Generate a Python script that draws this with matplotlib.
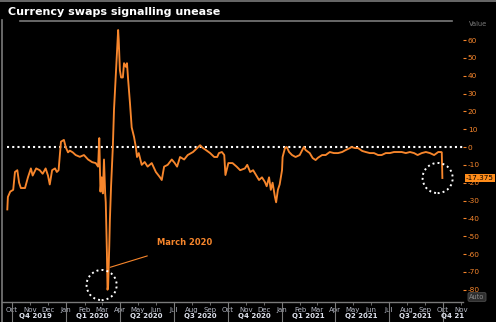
import matplotlib
matplotlib.use("Agg")
import matplotlib.pyplot as plt
import matplotlib.dates as mdates
import matplotlib.transforms as mtransforms
from matplotlib.lines import Line2D
import pandas as pd

plt.rcParams['axes.unicode_minus'] = False
plt.rcParams['font.family'] = ['DejaVu Sans']

# Cross-currency basis swap spread, approximate readings
dates = [
    "2019-09-23", "2019-09-24", "2019-09-28", "2019-10-03", "2019-10-06", "2019-10-10",
    "2019-10-13", "2019-10-16", "2019-10-23", "2019-10-28", "2019-11-02", "2019-11-05",
    "2019-11-11", "2019-11-17", "2019-11-22", "2019-11-27", "2019-12-01", "2019-12-04",
    "2019-12-08", "2019-12-13", "2019-12-16", "2019-12-19", "2019-12-23", "2019-12-28",
    "2019-12-31", "2020-01-04", "2020-01-07", "2020-01-12", "2020-01-17", "2020-01-24",
    "2020-01-31", "2020-02-07", "2020-02-14", "2020-02-20", "2020-02-24", "2020-02-26",
    "2020-02-28", "2020-03-01", "2020-03-03", "2020-03-05", "2020-03-07", "2020-03-08",
    "2020-03-09", "2020-03-10", "2020-03-11", "2020-03-12", "2020-03-14", "2020-03-15",
    "2020-03-16", "2020-03-17", "2020-03-19", "2020-03-20", "2020-03-22", "2020-03-24",
    "2020-03-27", "2020-03-29", "2020-03-30", "2020-04-01", "2020-04-03", "2020-04-06",
    "2020-04-08", "2020-04-11", "2020-04-13", "2020-04-15", "2020-04-18", "2020-04-21",
    "2020-04-25", "2020-04-28", "2020-04-30", "2020-05-03", "2020-05-08", "2020-05-13",
    "2020-05-18", "2020-05-25", "2020-06-01", "2020-06-08", "2020-06-11", "2020-06-15",
    "2020-06-21", "2020-06-28", "2020-07-03", "2020-07-07", "2020-07-12", "2020-07-19",
    "2020-07-25", "2020-08-03", "2020-08-10", "2020-08-15", "2020-08-20", "2020-08-25",
    "2020-09-01", "2020-09-08", "2020-09-13", "2020-09-16", "2020-09-21", "2020-09-25",
    "2020-09-27", "2020-10-02", "2020-10-09", "2020-10-16", "2020-10-22", "2020-10-30",
    "2020-11-03", "2020-11-08", "2020-11-13", "2020-11-18", "2020-11-23", "2020-11-28",
    "2020-12-03", "2020-12-06", "2020-12-10", "2020-12-13", "2020-12-16", "2020-12-20",
    "2020-12-22", "2020-12-25", "2020-12-28", "2021-01-01", "2021-01-02", "2021-01-06",
    "2021-01-09", "2021-01-13", "2021-01-18", "2021-01-24", "2021-01-31", "2021-02-07",
    "2021-02-10", "2021-02-17", "2021-02-22", "2021-02-27", "2021-03-03", "2021-03-10",
    "2021-03-16", "2021-03-23", "2021-03-30", "2021-04-06", "2021-04-13", "2021-04-19",
    "2021-04-26", "2021-04-29", "2021-05-05", "2021-05-10", "2021-05-17", "2021-05-23",
    "2021-05-30", "2021-06-06", "2021-06-13", "2021-06-19", "2021-06-26", "2021-07-03",
    "2021-07-10", "2021-07-17", "2021-07-23", "2021-07-30", "2021-08-06", "2021-08-13",
    "2021-08-19", "2021-08-26", "2021-09-02", "2021-09-09", "2021-09-16", "2021-09-23",
    "2021-09-28", "2021-09-29", "2021-09-30",
]
values = [
    -35, -28, -25, -24, -14, -13,
    -20, -23, -23, -17, -12, -16,
    -12, -13, -15, -12, -16, -21,
    -13, -12, -14, -13, 3, 4,
    0, -3, -2, -3, -4.5, -5.5,
    -4.5, -7, -8.5, -9, -11, 5,
    -25, -17, -26, -7, -26, -31,
    -45, -60, -80, -78, -55, -41,
    -31, -22, -7, 0, 21, 34,
    53, 65.6, 60, 43, 39, 39,
    47, 45, 47, 37.6, 25, 11,
    5.6, 0, -5.6, -3.4, -10, -8.4,
    -11, -9, -14, -17, -18.5, -11,
    -10, -7, -9, -11, -5.6, -7,
    -4.5, -2.8, -0.6, 1, -0.6, -1.7,
    -3.4, -5.6, -5.6, -3.4, -2.8, -4.5,
    -15.7, -9, -9, -11, -13, -12,
    -10, -14, -13, -15.7, -18.5, -17,
    -19.6, -22, -17, -24, -20, -28,
    -31, -24, -21, -13, -5.6, -0.6,
    0, -2.8, -4.5, -5.6, -4.5, 0,
    -1.7, -3.4, -6.2, -7.3, -6, -4.5,
    -4.5, -2.8, -3.4, -3.4, -2.8, -1.7,
    -0.6, 0, -0.6, -0.6, -2.2, -2.8,
    -3.4, -3.4, -4.5, -4.5, -3.4, -3.4,
    -2.8, -2.8, -2.8, -3.4, -2.8, -3.4,
    -4.5, -3.4, -2.8, -3.4, -4.5, -2.8,
    -2.8, -3.0, -17.375,
]

y_ticks = list(range(-80, 61, 10))
quarter_starts = ["2019-10-01", "2020-01-01", "2020-04-01", "2020-07-01", "2020-10-01",
                  "2021-01-01", "2021-04-01", "2021-07-01", "2021-10-01"]
quarter_labels = ["Q4 2019", "Q1 2020", "Q2 2020", "Q3 2020", "Q4 2020",
                  "Q1 2021", "Q2 2021", "Q3 2021", "Q4 21"]
quarter_centres = ["2019-11-10", "2020-02-14", "2020-05-16", "2020-08-15", "2020-11-15",
                   "2021-02-14", "2021-05-16", "2021-08-15", "2021-10-18"]

title = "Currency swaps signalling unease"
last_value = values[-1]

ORANGE = "#f7862c"
GREY = "#7a7a7a"

x = pd.to_datetime(dates)

W, H = 496, 322
fig = plt.figure(figsize=(W / 100, H / 100), dpi=100, facecolor="black")
ax = fig.add_axes([2 / W, 20 / H, 461 / W, 280 / H], facecolor="black")

ax.plot(x, values, color=ORANGE, lw=1.35, solid_joinstyle="round", zorder=3)
ax.axhline(0, xmin=0.01, color="white", lw=1.5, linestyle=(0, (1, 1.5)), zorder=2)

ax.set_xlim(pd.Timestamp("2019-09-14"), pd.Timestamp("2021-11-04"))
ax.set_ylim(-86.9, 70.1)

for s in ["top", "right", "left"]:
    ax.spines[s].set_visible(False)
ax.spines["bottom"].set_color(GREY)
ax.spines["bottom"].set_linewidth(1)

# month ticks along the bottom
ax.xaxis.set_major_locator(mdates.MonthLocator())
ax.xaxis.set_major_formatter(mdates.DateFormatter("%b"))
ax.tick_params(axis="x", colors=GREY, length=2, width=0.6, pad=1.5,
               labelsize=5, labelcolor="#b4b8c4")

# value axis on the right
ax.yaxis.tick_right()
ax.set_yticks(y_ticks)
ax.tick_params(axis="y", colors=ORANGE, length=2.5, width=0.8, pad=1,
               labelsize=5.3, labelcolor=ORANGE)

# quarter row with separators
btrans = mtransforms.blended_transform_factory(ax.transData, ax.transAxes)
for qs in quarter_starts:
    ax.plot([pd.Timestamp(qs)] * 2, [0, -0.075], transform=btrans, color=GREY,
            lw=0.8, clip_on=False)
for qc, ql in zip(quarter_centres, quarter_labels):
    ax.text(pd.Timestamp(qc), -0.05, ql, transform=btrans, ha="center", va="center",
            fontsize=5, fontweight="bold", color="#dfe3ee")

# highlight circles
ax.scatter([pd.Timestamp("2020-03-01"), pd.Timestamp("2021-09-22")], [-77.4, -17.4],
           s=470, facecolors="none", edgecolors="white", linewidths=1.4,
           linestyles=(0, (1, 1.6)), zorder=4)

ax.annotate("", xy=(pd.Timestamp("2020-03-11"), -67.9),
            xytext=(pd.Timestamp("2020-05-22"), -60.6),
            arrowprops=dict(arrowstyle="-", color=ORANGE, lw=0.8))
ax.text(pd.Timestamp("2020-06-03"), -53.3, "March 2020", color=ORANGE,
        fontsize=6, fontweight="bold", ha="left", va="center")

# last value tag
ytrans = mtransforms.blended_transform_factory(ax.transAxes, ax.transData)
ax.text(1.006, last_value, f"{last_value:g}", transform=ytrans, ha="left", va="center",
        fontsize=5.2, color="black",
        bbox=dict(boxstyle="square,pad=0.15", facecolor="#ff8c1a", edgecolor="none"))

# title and frame
fig.text(8 / W, 1 - 12 / H, title, color="white", fontsize=8, fontweight="bold",
         ha="left", va="center")
fig.text(478 / W, 1 - 24 / H, "Value", color=GREY, fontsize=4.8, ha="center", va="center")
fig.text(477 / W, 1 - 297 / H, "Auto", color="#8a8a8a", fontsize=4.8, ha="center",
         va="center", bbox=dict(boxstyle="round,pad=0.2", facecolor="#2e2e2e",
                                edgecolor="#555555", lw=0.5))

fig.add_artist(Line2D([0, 1], [1 - 0.5 / H, 1 - 0.5 / H], color=GREY, lw=1.2))
fig.add_artist(Line2D([20 / W, 452 / W], [1 - 21 / H, 1 - 21 / H], color=GREY, lw=1.2))
fig.add_artist(Line2D([2 / W, 2 / W], [0, 1 - 20 / H], color=GREY, lw=1.2))

fig.savefig("out.png", dpi=100, facecolor="black")
